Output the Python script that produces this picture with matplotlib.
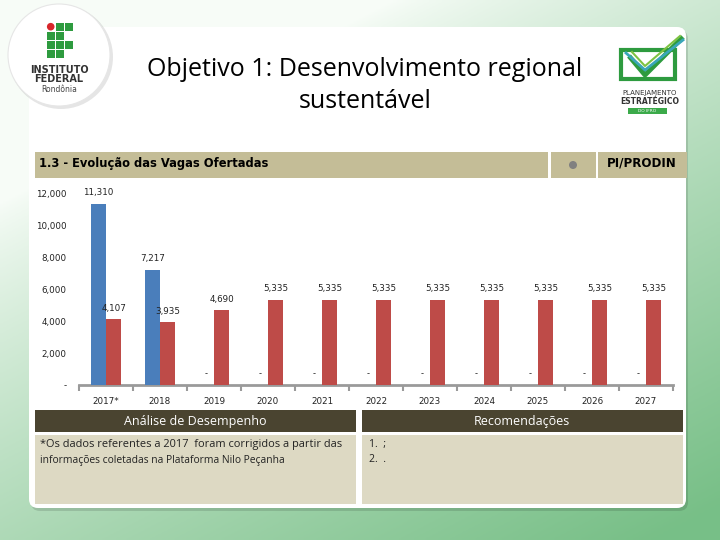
import numpy as np
import matplotlib
matplotlib.use("Agg")
import matplotlib.pyplot as plt
from matplotlib.patches import Rectangle, Circle, FancyBboxPatch

# ---- data ----
years = ["2017*", "2018", "2019", "2020", "2021", "2022", "2023", "2024", "2025", "2026", "2027"]
realizado = [11310, 7217, 0, 0, 0, 0, 0, 0, 0, 0, 0]
meta = [4107, 3935, 4690, 5335, 5335, 5335, 5335, 5335, 5335, 5335, 5335]
yticks = [0, 2000, 4000, 6000, 8000, 10000, 12000]
ytick_labels = ["-", "2,000", "4,000", "6,000", "8,000", "10,000", "12,000"]

title_lines = ["Objetivo 1: Desenvolvimento regional", "sustentável"]
chart_title = "1.3 - Evolução das Vagas Ofertadas"
unit_text = "PI/PRODIN"
analise_title = "Análise de Desempenho"
analise_lines = ["*Os dados referentes a 2017  foram corrigidos a partir das",
                 "informações coletadas na Plataforma Nilo Peçanha"]
recom_title = "Recomendações"
recom_lines = ["1.  ;", "2.  ."]

BLUE = "#4A7EBB"
RED = "#BE4B48"
TAN = "#C4BD97"
DARK = "#4A4430"
BODY = "#DDD9C3"

W, H = 720, 540
fig = plt.figure(figsize=(7.2, 5.4), dpi=100)

# background in pixel coordinates
bg = fig.add_axes([0, 0, 1, 1])
bg.set_xlim(0, W)
bg.set_ylim(H, 0)
bg.axis("off")
xx, yy = np.meshgrid(np.linspace(0, 1, 240), np.linspace(0, 1, 180))
t = np.clip(0.55 * xx + 0.8 * yy - 0.3, 0, 1) ** 0.8
white = np.array([0.97, 0.99, 0.97])
green = np.array([0.47, 0.75, 0.53])
img = white[None, None, :] * (1 - t[..., None]) + green[None, None, :] * t[..., None]
bg.imshow(img, extent=(0, W, H, 0), aspect="auto", zorder=0)

# card
bg.add_patch(FancyBboxPatch((31, 30), 657, 481, boxstyle="round,pad=0,rounding_size=9",
                            fc="#000000", ec="none", alpha=0.12, zorder=1))
bg.add_patch(FancyBboxPatch((29, 27), 657, 481, boxstyle="round,pad=0,rounding_size=9",
                            fc="white", ec="none", zorder=2))

# left logo
bg.add_patch(Circle((61, 57), 52, fc="#000000", alpha=0.10, ec="none", zorder=3))
bg.add_patch(Circle((59, 55), 51, fc="white", ec="#e6e6e6", lw=0.8, zorder=4))
gcol = "#2E9B3F"
cells = [(0, 1), (0, 2), (1, 0), (1, 1), (2, 0), (2, 1), (2, 2), (3, 0), (3, 1)]
for r, c in cells:
    bg.add_patch(Rectangle((47 + c * 9, 23 + r * 9), 7.5, 7.5, fc=gcol, ec="none", zorder=5))
bg.add_patch(Circle((50.7, 26.7), 3.8, fc="#D7262B", ec="none", zorder=5))
bg.text(59, 70, "INSTITUTO", ha="center", va="center", fontsize=7, fontweight="bold",
        color="#333333", family="DejaVu Sans", zorder=6)
bg.text(59, 79, "FEDERAL", ha="center", va="center", fontsize=7, fontweight="bold",
        color="#333333", family="DejaVu Sans", zorder=6)
bg.text(59, 89, "Rondônia", ha="center", va="center", fontsize=5.5,
        color="#444444", family="DejaVu Sans", zorder=6)

# right logo
lg = "#2E9B3F"
bg.add_patch(Rectangle((621, 50), 54, 29, fc="none", ec=lg, lw=3, zorder=5))
bg.plot([629, 645, 683], [56, 75, 37], color=lg, lw=3.5, solid_capstyle="butt", zorder=6)
bg.plot([626, 645, 683], [53, 70, 40], color="#3AA6B9", lw=2, zorder=6)
bg.plot([632, 645, 680], [52, 66, 36], color="#7DC242", lw=1.5, zorder=6)
bg.text(650, 93, "PLANEJAMENTO", ha="center", va="center", fontsize=5, color="#333333", zorder=6)
bg.text(650, 102, "ESTRATÉGICO", ha="center", va="center", fontsize=5.5, fontweight="bold",
        color="#333333", zorder=6)
bg.add_patch(Rectangle((628, 108), 39, 6, fc="#3BAA4A", ec="none", zorder=5))
bg.text(647.5, 111, "DO IFRO", ha="center", va="center", fontsize=3.2, color="white", zorder=6)

# title
bg.text(365, 69, title_lines[0], ha="center", va="center", fontsize=18, color="black",
        family="Open Sans", fontweight="medium", zorder=6)
bg.text(365, 101, title_lines[1], ha="center", va="center", fontsize=18, color="black",
        family="Open Sans", fontweight="medium", zorder=6)

# chart header bars
bg.add_patch(Rectangle((35, 152), 513, 26, fc=TAN, ec="none", zorder=5))
bg.add_patch(Rectangle((551, 152), 45, 26, fc=TAN, ec="none", zorder=5))
bg.add_patch(Rectangle((598, 152), 89, 26, fc=TAN, ec="none", zorder=5))
bg.add_patch(Circle((573, 165), 4, fc="#808080", ec="none", zorder=6))
bg.text(39, 164, chart_title, ha="left", va="center", fontsize=8.3, fontweight="bold",
        color="black", family="DejaVu Sans", zorder=6)
bg.text(642, 163, unit_text, ha="center", va="center", fontsize=8.6, fontweight="bold",
        color="black", family="DejaVu Sans", zorder=6)

# bottom boxes
bg.add_patch(Rectangle((35, 410), 321, 22, fc=DARK, ec="none", zorder=5))
bg.add_patch(Rectangle((362, 410), 321, 22, fc=DARK, ec="none", zorder=5))
bg.add_patch(Rectangle((35, 435), 321, 69, fc=BODY, ec="none", zorder=5))
bg.add_patch(Rectangle((362, 435), 321, 69, fc=BODY, ec="none", zorder=5))
bg.text(195, 421, analise_title, ha="center", va="center", fontsize=9, color="white",
        family="Open Sans", zorder=6)
bg.text(522, 421, recom_title, ha="center", va="center", fontsize=9, color="white",
        family="Open Sans", zorder=6)
bg.text(40, 444, analise_lines[0], ha="left", va="center", fontsize=7.9, color="#222222",
        family="Open Sans", zorder=6)
bg.text(40, 460, analise_lines[1], ha="left", va="center", fontsize=7.4, color="#222222",
        family="Open Sans", zorder=6)
bg.text(369, 444, recom_lines[0], ha="left", va="center", fontsize=7.5, color="#222222",
        family="Open Sans", zorder=6)
bg.text(369, 460, recom_lines[1], ha="left", va="center", fontsize=7.5, color="#222222",
        family="Open Sans", zorder=6)

# ---- bar chart ----
x0, x1, ybot, ytop = 79, 673, 385, 193
ax = fig.add_axes([x0 / W, 1 - ybot / H, (x1 - x0) / W, (ybot - ytop) / H])
ax.set_facecolor("none")
n = len(years)
x = np.arange(n)
bw = 0.275
off = 0.145
ax.bar(x - off, realizado, bw, color=BLUE, zorder=3)
ax.bar(x + off, meta, bw, color=RED, zorder=3)
ax.set_xlim(-0.5, n - 0.5)
ax.set_ylim(0, 12000)
for s in ["top", "right", "left"]:
    ax.spines[s].set_visible(False)
ax.spines["bottom"].set_color("#9a9a9a")
ax.spines["bottom"].set_linewidth(2)
ax.set_yticks(yticks)
ax.set_yticklabels(ytick_labels, fontsize=6.3, color="#222222")
ax.tick_params(axis="y", length=0, pad=9)
ax.set_xticks(np.arange(-0.5, n, 1.0))
ax.set_xticklabels([])
ax.tick_params(axis="x", length=4, width=1.5, color="#9a9a9a", direction="out")
ax.set_xticks(x, minor=True)
ax.set_xticklabels(years, minor=True, fontsize=6.3, color="#222222")
ax.tick_params(axis="x", which="minor", length=0, pad=9)

def fmt(v):
    return "-" if v == 0 else f"{v:,}"

for i in range(n):
    rv = realizado[i]
    if rv == 0:
        ax.text(x[i] - off, 700, "-", ha="center", va="center", fontsize=6, color="#222222")
    else:
        ax.text(x[i] - off, rv + 700, fmt(rv), ha="center", va="center", fontsize=6.3,
                color="#222222")
    mv = meta[i]
    ax.text(x[i] + off, mv + 680, fmt(mv), ha="center", va="center", fontsize=6.3,
            color="#222222")

fig.savefig("out.png", dpi=100)
